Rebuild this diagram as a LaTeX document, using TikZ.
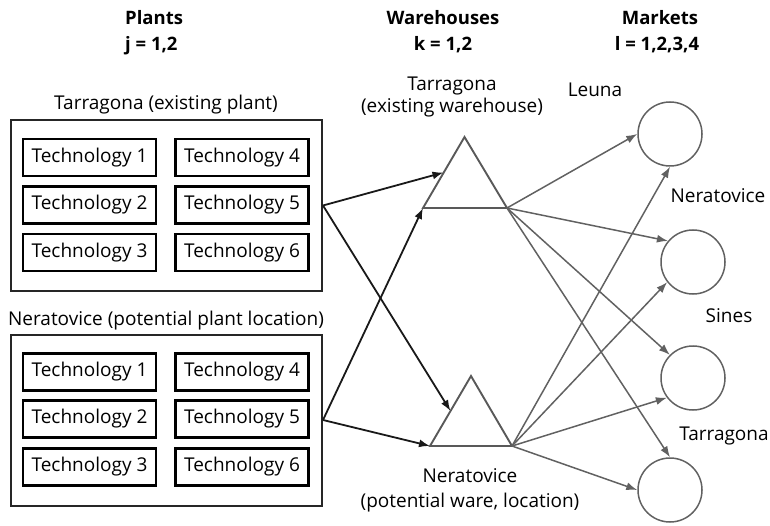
\documentclass[tikz,border=0pt]{standalone}
\usepackage{fontspec}
\setmainfont{Open Sans}
\usetikzlibrary{arrows.meta}
\begin{document}
\begin{tikzpicture}[x=1pt,y=-1pt,
  lbl/.style={inner sep=0pt, anchor=base, font=\fontsize{19}{23}\selectfont},
  hdr/.style={inner sep=0pt, anchor=base, font=\fontsize{18.5}{22}\selectfont\bfseries},
  tech/.style={draw=black, line width=2.2pt, minimum width=133pt, minimum height=37pt, inner sep=0pt, font=\fontsize{19}{23}\selectfont},
  plantbox/.style={draw=black!85, line width=2pt, minimum width=311pt, minimum height=171pt, inner sep=0pt},
  mkt/.style={circle, draw=black!62, line width=1.5pt, minimum size=64pt, inner sep=0pt},
  wh/.style={draw=black!65, line width=1.9pt, line join=miter},
  parrow/.style={-{Latex[length=11pt,width=8pt]}, line width=1.8pt, black!90},
  marrow/.style={-{Latex[length=11pt,width=8pt]}, line width=1.5pt, black!62}
]
\useasboundingbox (0,0) rectangle (770,526);

% headers
\node[hdr, anchor=base west] (hP) at (125,25) {Plants};
\node[hdr, anchor=base west] (hj) at (125,51) {j = 1,2};
\node[hdr] (hW) at (443,25) {Warehouses};
\node[hdr] (hk) at (443,51) {k = 1,2};
\node[hdr] (hM) at (660,25) {Markets};
\node[hdr] (hl) at (657,51) {l = 1,2,3,4};

% plants
\node[lbl] (p1t) at (166,110) {Tarragona (existing plant)};
\node[plantbox] (p1) at (166.5,205.5) {};
\node[tech] (p1a) at (89.5,157.5) {Technology 1};
\node[tech] (p1b) at (89.5,205) {Technology 2};
\node[tech] (p1c) at (89.5,252.5) {Technology 3};
\node[tech] (p1d) at (242,157.5) {Technology 4};
\node[tech] (p1e) at (242,205) {Technology 5};
\node[tech] (p1f) at (242,252.5) {Technology 6};

\node[lbl] (p2t) at (166,325) {Neratovice (potential plant location)};
\node[plantbox] (p2) at (166.5,420) {};
\node[tech] (p2a) at (89.5,372) {Technology 1};
\node[tech] (p2b) at (89.5,419) {Technology 2};
\node[tech] (p2c) at (89.5,467) {Technology 3};
\node[tech] (p2d) at (242,372) {Technology 4};
\node[tech] (p2e) at (242,419) {Technology 5};
\node[tech] (p2f) at (242,467) {Technology 6};

% warehouses
\coordinate (w1a) at (464.5,137);
\coordinate (w1l) at (423,208);
\coordinate (w1r) at (507,208);
\coordinate (w1m) at (443.5,172.5);
\draw[wh] (w1l) -- (w1a) -- (w1r) -- cycle;
\node[lbl] (w1t) at (452,91) {Tarragona};
\node[lbl] (w1s) at (452,113) {(existing warehouse)};

\coordinate (w2a) at (471,376);
\coordinate (w2l) at (430,446);
\coordinate (w2r) at (512,446);
\coordinate (w2m) at (450.5,411);
\draw[wh] (w2l) -- (w2a) -- (w2r) -- cycle;
\node[lbl] (w2t) at (470,482) {Neratovice};
\node[lbl] (w2s) at (470,507) {(potential ware, location)};

% markets
\node[mkt] (m1) at (670,134) {};
\node[mkt] (m2) at (693,262) {};
\node[mkt] (m3) at (693,378) {};
\node[mkt] (m4) at (670,490) {};
\node[lbl] (m1t) at (595,97) {Leuna};
\node[lbl] (m2t) at (718,203) {Neratovice};
\node[lbl] (m3t) at (729,322) {Sines};
\node[lbl] (m4t) at (724,440) {Tarragona};

% plant -> warehouse
\draw[parrow] (p1.east) -- (w1m);
\draw[parrow] (p1.east) -- (w2m);
\draw[parrow] (p2.east) -- (w1l);
\draw[parrow] (p2.east) -- (w2l);

% warehouse -> market
\draw[marrow] (w1r) -- (m1.west);
\draw[marrow] (w1r) -- (m2.140);
\draw[marrow] (w1r) -- (m3.135);
\draw[marrow] (w1r) -- (m4.north);
\draw[marrow] (w2r) -- (m1.south);
\draw[marrow] (w2r) -- (m2.218);
\draw[marrow] (w2r) -- (m3.217);
\draw[marrow] (w2r) -- (m4.west);
\end{tikzpicture}
\end{document}
